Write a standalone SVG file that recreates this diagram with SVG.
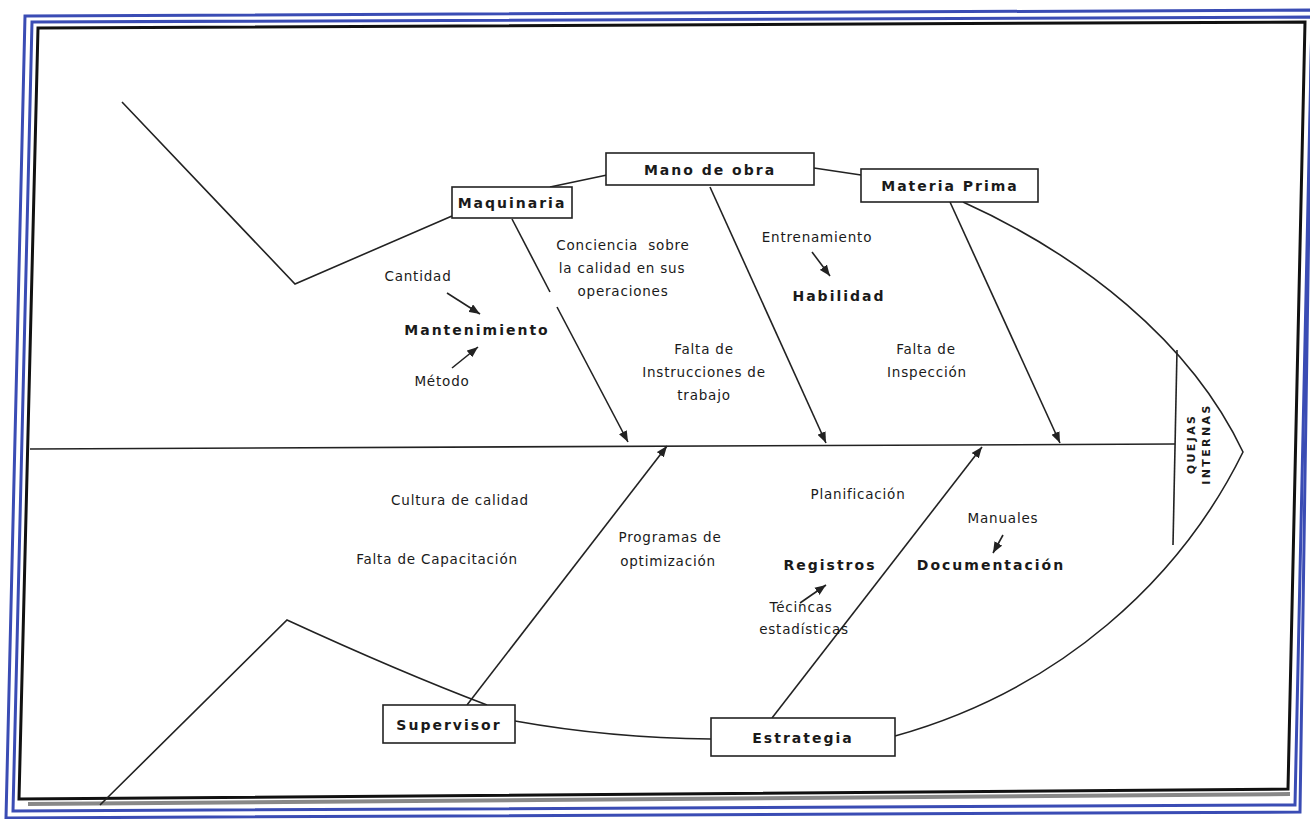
<svg xmlns="http://www.w3.org/2000/svg" width="1310" height="819" viewBox="0 0 1310 819">
<style>
.ln{fill:none;stroke:#222;stroke-width:1.6}
.box{fill:#fff;stroke:#222;stroke-width:1.6}
.t{font-family:"DejaVu Sans",Verdana,sans-serif;font-size:13.5px;fill:#1a1a1a;text-anchor:middle;letter-spacing:0.8px}
.b{font-family:"DejaVu Sans",Verdana,sans-serif;font-size:14px;font-weight:bold;fill:#1a1a1a;text-anchor:middle;letter-spacing:2px}
.blue{fill:none;stroke:#3a4cb4;stroke-width:3}
</style>
<defs>
<marker id="ah" viewBox="0 0 10 8" refX="10" refY="4" markerWidth="11" markerHeight="9" markerUnits="userSpaceOnUse" orient="auto"><path d="M0,0 L10,4 L0,8 z" fill="#222"/></marker>
</defs>
<rect width="1310" height="819" fill="#fff"/>
<g id="frame">
<polygon class="blue" points="25,16 1312,10 1300,812 6,818"/>
<polygon class="blue" points="32,22 1312,17 1295,805 13,811" stroke-width="2"/>
<line x1="28" y1="804" x2="1290" y2="794" stroke="#888" stroke-width="4"/>
<polygon points="38,28 1305,22 1288,789 19,799" fill="none" stroke="#111" stroke-width="3"/>
</g>
<g id="connectors">
<path class="ln" d="M122,102 L295,284 L452,216"/>
<path class="ln" d="M550,187 L607,175"/>
<path class="ln" d="M814,168 L861,175"/>
<path class="ln" d="M963,202 C1080,255 1190,340 1243,452 C1180,580 1060,690 895,736"/>
<path class="ln" d="M515,721 Q610,738 711,739"/>
<path class="ln" d="M100,805 L287,620 Q400,672 487,705"/>
<path class="ln" d="M30,449 L1175,444"/>
<path class="ln" d="M1177,350 L1173,545"/>
<path class="ln" d="M512,219 L550,292"/>
<path class="ln" d="M557,307 L628,442" marker-end="url(#ah)"/>
<path class="ln" d="M710,187 L826,443" marker-end="url(#ah)"/>
<path class="ln" d="M950,202 L1060,443" marker-end="url(#ah)"/>
<path class="ln" d="M467,705 L667,446" marker-end="url(#ah)"/>
<path class="ln" d="M772,718 L982,447" marker-end="url(#ah)"/>
<path class="ln" d="M447,293 L480,314" marker-end="url(#ah)"/>
<path class="ln" d="M452,368 L478,347" marker-end="url(#ah)"/>
<path class="ln" d="M812,252 L830,276" marker-end="url(#ah)"/>
<path class="ln" d="M1003,535 L993,553" marker-end="url(#ah)"/>
<path class="ln" d="M800,603 L826,585" marker-end="url(#ah)"/>
</g>
<g id="maquinaria"><rect class="box" x="452" y="187" width="120" height="31"/><text class="b" x="512" y="208">Maquinaria</text></g>
<g id="mano-de-obra"><rect class="box" x="606" y="153" width="208" height="32"/><text class="b" x="710" y="175">Mano de obra</text></g>
<g id="materia-prima"><rect class="box" x="861" y="169" width="177" height="33"/><text class="b" x="950" y="191">Materia Prima</text></g>
<g id="supervisor"><rect class="box" x="383" y="705" width="132" height="38"/><text class="b" x="449" y="730">Supervisor</text></g>
<g id="estrategia"><rect class="box" x="711" y="718" width="184" height="38"/><text class="b" x="803" y="743">Estrategia</text></g>
<g id="head"><text class="b" transform="translate(1195,444) rotate(-90)" style="font-size:11px;letter-spacing:2.4px"><tspan x="0" dy="0">QUEJAS</tspan><tspan x="0" dy="15">INTERNAS</tspan></text></g>
<g id="labels">
<text class="t" x="418" y="281">Cantidad</text>
<text class="b" x="477" y="335">Mantenimiento</text>
<text class="t" x="442" y="386">Método</text>
<text class="t" x="623" y="250" style="white-space:pre">Conciencia  sobre</text>
<text class="t" x="622" y="273">la calidad en sus</text>
<text class="t" x="623" y="296">operaciones</text>
<text class="t" x="817" y="242">Entrenamiento</text>
<text class="b" x="839" y="301">Habilidad</text>
<text class="t" x="704" y="354">Falta de</text>
<text class="t" x="704" y="377">Instrucciones de</text>
<text class="t" x="704" y="400">trabajo</text>
<text class="t" x="926" y="354">Falta de</text>
<text class="t" x="927" y="377">Inspección</text>
<text class="t" x="460" y="505">Cultura de calidad</text>
<text class="t" x="437" y="564">Falta de Capacitación</text>
<text class="t" x="670" y="542">Programas de</text>
<text class="t" x="668" y="566">optimización</text>
<text class="t" x="858" y="499">Planificación</text>
<text class="t" x="1003" y="523">Manuales</text>
<text class="b" x="991" y="570">Documentación</text>
<text class="b" x="830" y="570">Registros</text>
<text class="t" x="801" y="612">Técincas</text>
<text class="t" x="804" y="634">estadísticas</text>
</g>
</svg>
